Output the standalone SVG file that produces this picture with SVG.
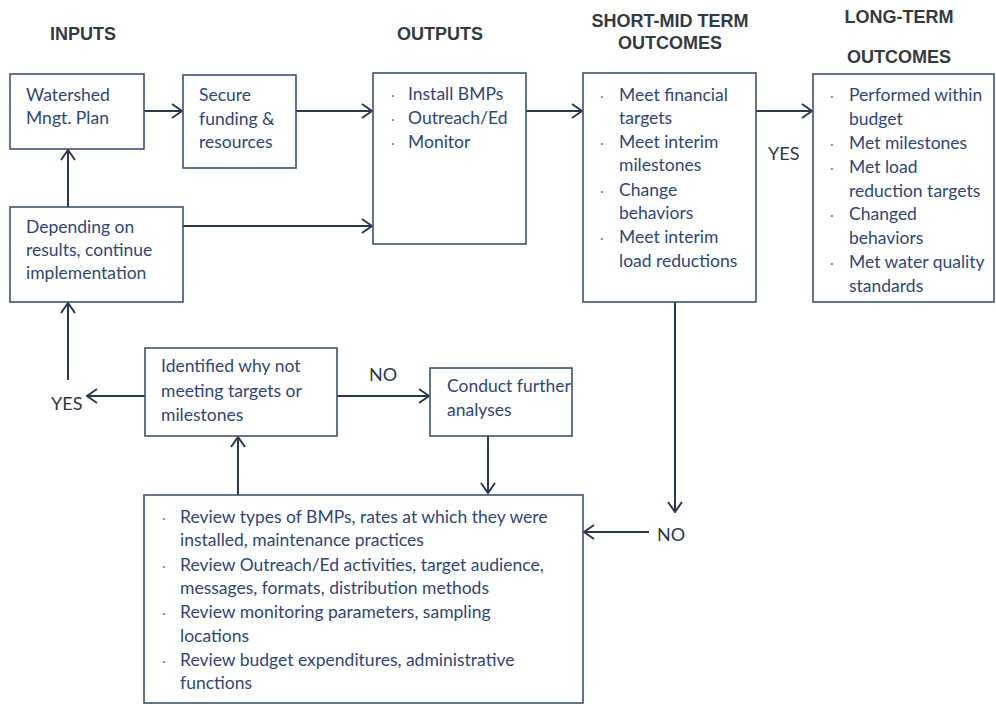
<svg xmlns="http://www.w3.org/2000/svg" width="996" height="704" viewBox="0 0 996 704">
<style>
.hd{font-family:"Liberation Sans",Arial,sans-serif;font-weight:bold;font-size:18px;fill:#333a44;text-anchor:middle}
.t{font-family:Lato,"Open Sans",sans-serif;font-size:17.5px;fill:#2f4678}
.b{font-family:Lato,"Open Sans",sans-serif;font-size:14px;fill:#7a8496}
.lb{font-family:Lato,"Open Sans",sans-serif;font-size:18px;fill:#2c3848}
.box{fill:#fff;stroke:#3e5274;stroke-width:1.6}
.c{fill:none;stroke:#2a3950;stroke-width:2}
</style>
<defs>
<marker id="ah" viewBox="0 0 12 16" refX="11" refY="8" markerWidth="12" markerHeight="16" markerUnits="userSpaceOnUse" orient="auto">
<path d="M1,1 L11,8 L1,15" fill="none" stroke="#2a3950" stroke-width="2"/>
</marker>
</defs>
<rect width="996" height="704" fill="#fff"/>
<g id="headers">
<text class="hd" x="83" y="40">INPUTS</text>
<text class="hd" x="440" y="40">OUTPUTS</text>
<text class="hd" x="670" y="27">SHORT-MID TERM</text>
<text class="hd" x="670" y="49">OUTCOMES</text>
<text class="hd" x="899" y="23">LONG-TERM</text>
<text class="hd" x="899" y="63">OUTCOMES</text>
</g>
<g id="connectors">
<line class="c" x1="144" y1="111" x2="182" y2="111" marker-end="url(#ah)"/>
<line class="c" x1="296" y1="111" x2="372" y2="111" marker-end="url(#ah)"/>
<line class="c" x1="183" y1="226" x2="372" y2="226" marker-end="url(#ah)"/>
<line class="c" x1="68" y1="207" x2="68" y2="150" marker-end="url(#ah)"/>
<line class="c" x1="526" y1="111" x2="582" y2="111" marker-end="url(#ah)"/>
<line class="c" x1="756" y1="111" x2="812" y2="111" marker-end="url(#ah)"/>
<line class="c" x1="675" y1="302" x2="675" y2="512" marker-end="url(#ah)"/>
<line class="c" x1="649" y1="532" x2="584" y2="532" marker-end="url(#ah)"/>
<line class="c" x1="145" y1="396" x2="87" y2="396" marker-end="url(#ah)"/>
<line class="c" x1="68" y1="380" x2="68" y2="303" marker-end="url(#ah)"/>
<line class="c" x1="337" y1="396" x2="429" y2="396" marker-end="url(#ah)"/>
<line class="c" x1="238" y1="495" x2="238" y2="437" marker-end="url(#ah)"/>
<line class="c" x1="488" y1="436" x2="488" y2="493" marker-end="url(#ah)"/>
<text class="lb" x="768" y="160">YES</text>
<text class="lb" x="51" y="410">YES</text>
<text class="lb" x="369" y="381">NO</text>
<text class="lb" x="657" y="541">NO</text>
</g>
<g id="watershed">
<rect class="box" x="10" y="74" width="134" height="75"/>
<text class="t" x="26" y="101">Watershed</text>
<text class="t" x="26" y="124">Mngt. Plan</text>
</g>
<g id="secure">
<rect class="box" x="183" y="75" width="113" height="93"/>
<text class="t" x="199" y="101">Secure</text>
<text class="t" x="199" y="125">funding &amp;</text>
<text class="t" x="199" y="148">resources</text>
</g>
<g id="depending">
<rect class="box" x="10" y="207" width="173" height="95"/>
<text class="t" x="26" y="233">Depending on</text>
<text class="t" x="26" y="256">results, continue</text>
<text class="t" x="26" y="279">implementation</text>
</g>
<g id="outputs">
<rect class="box" x="373" y="73" width="153" height="171"/>
<text class="b" x="391" y="100">·</text><text class="t" x="408" y="100">Install BMPs</text>
<text class="b" x="391" y="124">·</text><text class="t" x="408" y="124">Outreach/Ed</text>
<text class="b" x="391" y="148">·</text><text class="t" x="408" y="148">Monitor</text>
</g>
<g id="shortmid">
<rect class="box" x="583" y="73" width="173" height="229"/>
<text class="b" x="600" y="101">·</text><text class="t" x="619" y="101">Meet financial</text>
<text class="t" x="619" y="124">targets</text>
<text class="b" x="600" y="148">·</text><text class="t" x="619" y="148">Meet interim</text>
<text class="t" x="619" y="171">milestones</text>
<text class="b" x="600" y="196">·</text><text class="t" x="619" y="196">Change</text>
<text class="t" x="619" y="219">behaviors</text>
<text class="b" x="600" y="243">·</text><text class="t" x="619" y="243">Meet interim</text>
<text class="t" x="619" y="267">load reductions</text>
</g>
<g id="longterm">
<rect class="box" x="813" y="74" width="181" height="228"/>
<text class="b" x="830" y="101">·</text><text class="t" x="849" y="101">Performed within</text>
<text class="t" x="849" y="125">budget</text>
<text class="b" x="830" y="149">·</text><text class="t" x="849" y="149">Met milestones</text>
<text class="b" x="830" y="173">·</text><text class="t" x="849" y="173">Met load</text>
<text class="t" x="849" y="197">reduction targets</text>
<text class="b" x="830" y="220">·</text><text class="t" x="849" y="220">Changed</text>
<text class="t" x="849" y="244">behaviors</text>
<text class="b" x="830" y="268">·</text><text class="t" x="849" y="268">Met water quality</text>
<text class="t" x="849" y="292">standards</text>
</g>
<g id="identified">
<rect class="box" x="145" y="348" width="192" height="88"/>
<text class="t" x="161" y="372">Identified why not</text>
<text class="t" x="161" y="397">meeting targets or</text>
<text class="t" x="161" y="421">milestones</text>
</g>
<g id="conduct">
<rect class="box" x="430" y="368" width="142" height="68"/>
<text class="t" x="447" y="392">Conduct further</text>
<text class="t" x="447" y="416">analyses</text>
</g>
<g id="review">
<rect class="box" x="144" y="495" width="439" height="208"/>
<text class="b" x="162" y="523">·</text><text class="t" x="180" y="523">Review types of BMPs, rates at which they were</text>
<text class="t" x="180" y="546">installed, maintenance practices</text>
<text class="b" x="162" y="571">·</text><text class="t" x="180" y="571">Review Outreach/Ed activities, target audience,</text>
<text class="t" x="180" y="594">messages, formats, distribution methods</text>
<text class="b" x="162" y="618">·</text><text class="t" x="180" y="618">Review monitoring parameters, sampling</text>
<text class="t" x="180" y="642">locations</text>
<text class="b" x="162" y="666">·</text><text class="t" x="180" y="666">Review budget expenditures, administrative</text>
<text class="t" x="180" y="689">functions</text>
</g>
</svg>
